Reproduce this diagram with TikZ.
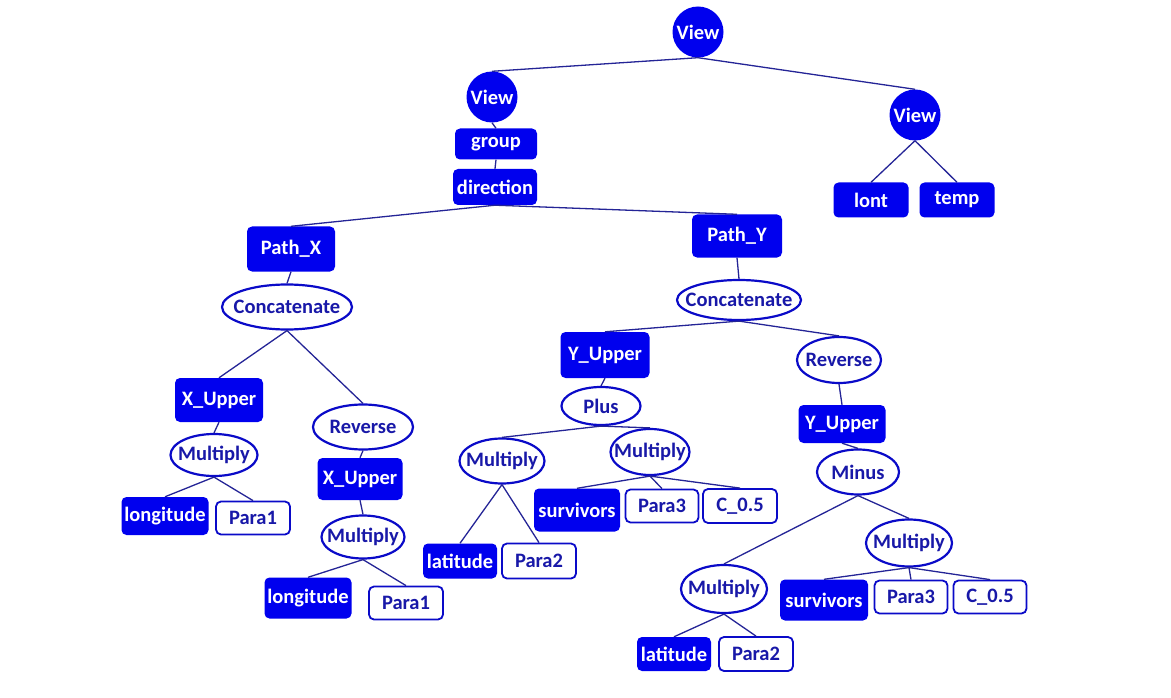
\documentclass[tikz,border=0pt]{standalone}
\usepackage{fontspec}
\setmainfont{Carlito}
\usetikzlibrary{shapes.geometric}
\definecolor{fillblue}{RGB}{0,0,238}
\definecolor{txtblue}{RGB}{24,24,168}
\definecolor{lineblue}{RGB}{36,36,150}
\definecolor{edgeblue}{RGB}{10,10,200}
\newcommand{\zw}[1]{\makebox[0pt]{#1}}
\tikzset{
  lbl/.style={font=\fontsize{20.5}{22}\selectfont\bfseries, inner sep=0pt},
  fbox/.style={lbl, rectangle, rounded corners=5pt, fill=fillblue, text=white},
  wbox/.style={lbl, rectangle, rounded corners=5pt, draw=edgeblue, line width=1.8pt, fill=white, text=txtblue},
  oval/.style={lbl, ellipse, draw=edgeblue, line width=2.2pt, fill=white, text=txtblue},
  circ/.style={lbl, circle, fill=fillblue, text=white, minimum size=51pt},
  conn/.style={draw=lineblue, line width=1.3pt}
}
\begin{document}
\begin{tikzpicture}[x=1pt,y=-1pt]
\useasboundingbox (0,0) rectangle (1171,698);
% nodes
\node[circ] (v0) at (698,32) {View};
\node[circ] (v1) at (492,97) {View};
\node[circ] (v2) at (915,115) {View};
\node[fbox, minimum width=82pt, minimum height=31pt] (grp) at (496,144) {group};
\node[fbox, minimum width=84pt, minimum height=36pt] (dir) at (495,187) {direction};
\node[fbox, minimum width=75pt, minimum height=35pt] (lont) at (871,200) {lont};
\node[fbox, minimum width=75pt, minimum height=35pt] (temp) at (957,200) {temp};
\node[fbox, minimum width=88pt, minimum height=45pt] (px) at (291,249) {Path\_X};
\node[oval, minimum width=130pt, minimum height=45pt] (cx) at (287,307) {\zw{Concatenate}};
\node[fbox, minimum width=88pt, minimum height=44pt] (xu1) at (219,400) {X\_Upper};
\node[oval, minimum width=100pt, minimum height=45pt] (rx) at (363,427) {\zw{Reverse}};
\node[oval, minimum width=87pt, minimum height=42pt] (mx1) at (214,455) {\zw{Multiply}};
\node[fbox, minimum width=87pt, minimum height=38pt] (lo1) at (165,516) {longitude};
\node[wbox, minimum width=74pt, minimum height=33pt] (pa1) at (253,518) {Para1};
\node[fbox, minimum width=85pt, minimum height=42pt] (xu2) at (360,479) {X\_Upper};
\node[oval, minimum width=83pt, minimum height=43pt] (mx2) at (363,537) {\zw{Multiply}};
\node[fbox, minimum width=87pt, minimum height=41pt] (lo2) at (308,598) {longitude};
\node[wbox, minimum width=74pt, minimum height=33pt] (pa1b) at (406,603) {Para1};
\node[fbox, minimum width=90pt, minimum height=43pt] (py) at (737,236) {Path\_Y};
\node[oval, minimum width=124pt, minimum height=40pt] (cy) at (739,300) {\zw{Concatenate}};
\node[fbox, minimum width=89pt, minimum height=46pt] (yu1) at (605,355) {Y\_Upper};
\node[oval, minimum width=79pt, minimum height=38pt] (plus) at (601,406) {\zw{Plus}};
\node[oval, minimum width=85pt, minimum height=45pt] (ma) at (502,461) {\zw{Multiply}};
\node[oval, minimum width=79pt, minimum height=46pt] (mb) at (650,452) {\zw{Multiply}};
\node[fbox, minimum width=86pt, minimum height=43pt] (sv1) at (577,510) {survivors};
\node[wbox, minimum width=73pt, minimum height=33pt] (pa3) at (662,506) {Para3};
\node[wbox, minimum width=74pt, minimum height=34pt] (c05) at (740,506) {C\_0.5};
\node[fbox, minimum width=74pt, minimum height=35pt] (la1) at (460,561) {latitude};
\node[wbox, minimum width=74pt, minimum height=35pt] (pa2) at (539,561) {Para2};
\node[oval, minimum width=84pt, minimum height=46pt] (ry) at (839,360) {\zw{Reverse}};
\node[fbox, minimum width=87pt, minimum height=38pt] (yu2) at (842,424) {Y\_Upper};
\node[oval, minimum width=82pt, minimum height=45pt] (minus) at (858,472) {\zw{Minus}};
\node[oval, minimum width=86pt, minimum height=47pt] (md) at (909,543) {\zw{Multiply}};
\node[oval, minimum width=86pt, minimum height=48pt] (mc) at (724,589) {\zw{Multiply}};
\node[fbox, minimum width=88pt, minimum height=41pt] (sv2) at (824,600) {survivors};
\node[wbox, minimum width=73pt, minimum height=33pt] (pa3b) at (911,597) {Para3};
\node[wbox, minimum width=73pt, minimum height=33pt] (c05b) at (990,597) {C\_0.5};
\node[fbox, minimum width=74pt, minimum height=34pt] (la2) at (674,654) {latitude};
\node[wbox, minimum width=74pt, minimum height=34pt] (pa2b) at (756,654) {Para2};
% connectors
\draw[conn] (v0.south) -- (v1.north);
\draw[conn] (v0.south) -- (v2.north);
\draw[conn] (v1.south) -- (grp.north);
\draw[conn] (grp.south) -- (dir.north);
\draw[conn] (v2.south) -- (lont.north);
\draw[conn] (v2.south) -- (temp.north);
\draw[conn] (dir.south) -- (px.north);
\draw[conn] (dir.south) -- (py.north);
\draw[conn] (px.south) -- (cx.north);
\draw[conn] (cx.south) -- (xu1.north);
\draw[conn] (cx.south) -- (rx.north);
\draw[conn] (xu1.south) -- (mx1.north);
\draw[conn] (mx1.south) -- (lo1.north);
\draw[conn] (mx1.south) -- (pa1.north);
\draw[conn] (rx.south) -- (xu2.north);
\draw[conn] (xu2.south) -- (mx2.north);
\draw[conn] (mx2.south) -- (lo2.north);
\draw[conn] (mx2.south) -- (pa1b.north);
\draw[conn] (py.south) -- (cy.north);
\draw[conn] (cy.south) -- (yu1.north);
\draw[conn] (cy.south) -- (ry.north);
\draw[conn] (yu1.south) -- (plus.north);
\draw[conn] (plus.south) -- (ma.north);
\draw[conn] (plus.south) -- (mb.north);
\draw[conn] (ma.south) -- (la1.north);
\draw[conn] (ma.south) -- (pa2.north);
\draw[conn] (mb.south) -- (sv1.north);
\draw[conn] (mb.south) -- (pa3.north);
\draw[conn] (mb.south) -- (c05.north);
\draw[conn] (ry.south) -- (yu2.north);
\draw[conn] (yu2.south) -- (minus.north);
\draw[conn] (minus.south) -- (mc.north);
\draw[conn] (minus.south) -- (md.north);
\draw[conn] (mc.south) -- (la2.north);
\draw[conn] (mc.south) -- (pa2b.north);
\draw[conn] (md.south) -- (sv2.north);
\draw[conn] (md.south) -- (pa3b.north);
\draw[conn] (md.south) -- (c05b.north);
\end{tikzpicture}
\end{document}
